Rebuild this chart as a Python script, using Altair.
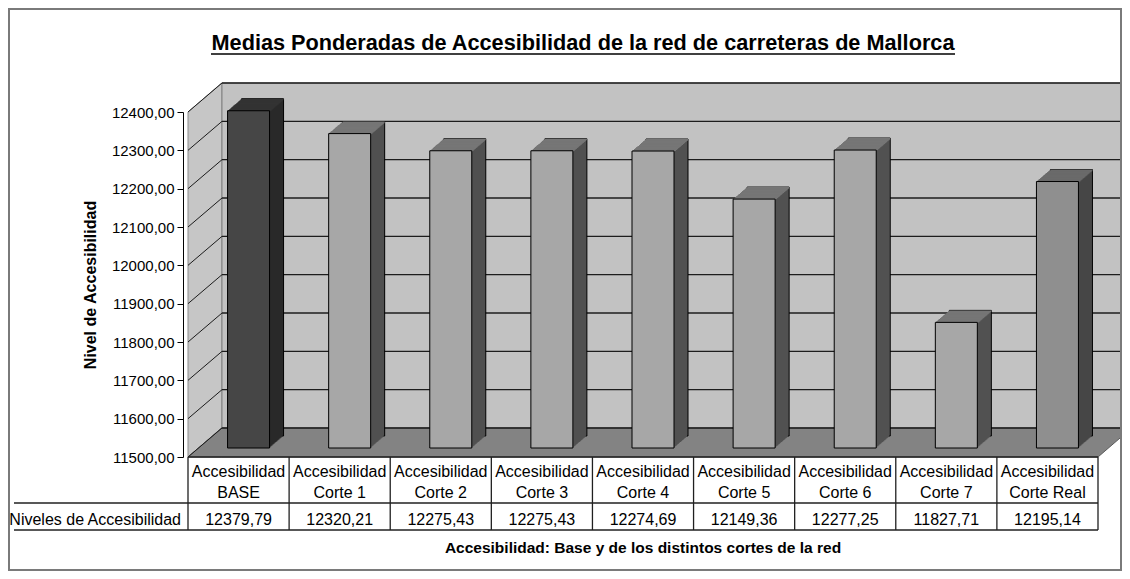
import altair as alt
import pandas as pd

# ---------------- data ----------------
categories = ["BASE", "Corte 1", "Corte 2", "Corte 3", "Corte 4",
              "Corte 5", "Corte 6", "Corte 7", "Corte Real"]
values = [12379.79, 12320.21, 12275.43, 12275.43, 12274.69,
          12149.36, 12277.25, 11827.71, 12195.14]
y_ticks = [11500, 11600, 11700, 11800, 11900, 12000, 12100, 12200, 12300, 12400]
label_prefix = "Accesibilidad"
title_text = "Medias Ponderadas de Accesibilidad de la red de carreteras de Mallorca"
y_title = "Nivel de Accesibilidad"
x_title = "Accesibilidad: Base y de los distintos cortes de la red"
row_label = "Niveles de Accesibilidad"

# ---------------- styles ----------------
FONT = "Liberation Sans"
W, H = 920, 345
DX, DY = 34, 29          # wall depth (px)
BX, BY = 10, 9           # bar front offset from front plane (px)
BDX, BDY = 14, 12        # bar depth (px)
BAR_W = 42
front_colors = ["#464646"] + ["#a7a7a7"] * 7 + ["#8f8f8f"]
top_colors = ["#333333"] + ["#767676"] * 7 + ["#6a6a6a"]
side_colors = ["#2a2a2a"] + ["#515151"] * 7 + ["#474747"]
WALL = "#c2c2c2"
FLOOR = "#838383"
GRID = "#1c1c1c"

n = len(categories)
xmin, xmax = -0.5, n - 0.5
YMIN, YMAX = y_ticks[0], y_ticks[-1]
xs = alt.Scale(domain=[xmin, xmax], nice=False, zero=False)
ys = alt.Scale(domain=[YMIN, YMAX], nice=False, zero=False)
pxx = W / (xmax - xmin)
pxy = H / (YMAX - YMIN)
dxu, dyu = DX / pxx, DY / pxy

df = pd.DataFrame({"cat": categories, "value": values, "idx": list(range(n))})
df["l1"] = label_prefix
one = pd.DataFrame({"a": [0]})
ticks_df = pd.DataFrame({"v": y_ticks})
bounds_df = pd.DataFrame({"b": [i - 0.5 for i in range(n + 1)]})

yaxis = alt.Axis(values=y_ticks,
                 labelExpr="replace(format(datum.value, '.2f'), '.', ',')",
                 labelFont=FONT, labelFontSize=15, labelColor="black",
                 tickColor="black", tickSize=6, domainColor="black",
                 labelPadding=3, grid=False,
                 title=y_title, titleFont=FONT, titleFontSize=16,
                 titleFontWeight="bold", titleColor="black",
                 titleX=-93, titleY=H / 2, titleAngle=270,
                 titleBaseline="middle", titleAlign="center", zindex=2)

def X(field=None, datum=None):
    if datum is not None:
        return alt.X(datum=datum, scale=xs, axis=None)
    return alt.X(field, scale=xs, axis=None)

def Y(field=None, datum=None):
    if datum is not None:
        return alt.Y(datum=datum, scale=ys, axis=yaxis)
    return alt.Y(field, scale=ys, axis=yaxis)

layers = []

# back wall
layers.append(
    alt.Chart(one).mark_rect(fill=WALL, stroke="#8a8a8a", strokeWidth=1,
                             xOffset=DX, x2Offset=80, yOffset=-DY, y2Offset=-DY)
    .encode(x=X(datum=xmin), x2=alt.X2(datum=xmax),
            y=Y(datum=YMAX), y2=alt.Y2(datum=YMIN))
)

# left wall
lw = pd.DataFrame({"x": [xmin, xmin + dxu],
                   "top": [YMAX, YMAX + dyu],
                   "bot": [YMIN, YMIN + dyu]})
layers.append(
    alt.Chart(lw).mark_area(fill="#c6c6c6", stroke="#8a8a8a", strokeWidth=1)
    .encode(x=X("x:Q"), y=Y("top:Q"), y2=alt.Y2("bot:Q"))
)

# floor
fl = pd.DataFrame({"x": [xmin, xmin + dxu, xmax, xmax + dxu],
                   "top": [YMIN, YMIN + dyu, YMIN + dyu, YMIN + dyu],
                   "bot": [YMIN, YMIN, YMIN, YMIN + dyu]})
layers.append(
    alt.Chart(fl).mark_area(fill=FLOOR, stroke="#5a5a5a", strokeWidth=1)
    .encode(x=X("x:Q"), y=Y("top:Q"), y2=alt.Y2("bot:Q"))
)

# back-wall gridlines
layers.append(
    alt.Chart(ticks_df).mark_rule(color=GRID, strokeWidth=1.3,
                                  xOffset=DX, x2Offset=80, yOffset=-DY, y2Offset=-DY)
    .encode(x=X(datum=xmin), x2=alt.X2(datum=xmax),
            y=Y("v:Q"), y2=alt.Y2("v:Q"))
)
# slanted lines on the side wall
layers.append(
    alt.Chart(ticks_df).mark_rule(color=GRID, strokeWidth=1,
                                  x2Offset=DX, y2Offset=-DY)
    .encode(x=X(datum=xmin), x2=alt.X2(datum=xmin),
            y=Y("v:Q"), y2=alt.Y2("v:Q"))
)

ratio = BDY / BDX
def col(rng):
    return alt.Color("cat:N", scale=alt.Scale(domain=categories, range=rng), legend=None)

# bar side faces (extrusion)
for k in range(BDX, 0, -1):
    off = -(BY + k * ratio)
    kw = dict(size=BAR_W, xOffset=BX + k, yOffset=off, y2Offset=off)
    if k == BDX:
        kw.update(stroke="black", strokeWidth=1)
    layers.append(
        alt.Chart(df).mark_bar(**kw)
        .encode(x=X("idx:Q"), y=Y("value:Q"), y2=alt.Y2(datum=YMIN), color=col(side_colors))
    )
# bar top faces
for k in range(BDX, 0, -1):
    off = -(BY + k * ratio)
    layers.append(
        alt.Chart(df).mark_bar(size=BAR_W, xOffset=BX + k, yOffset=off, y2Offset=off + 1.6)
        .encode(x=X("idx:Q"), y=Y("value:Q"), y2=alt.Y2("value:Q"), color=col(top_colors))
    )
# bar fronts
layers.append(
    alt.Chart(df).mark_bar(size=BAR_W, xOffset=BX, yOffset=-BY, y2Offset=-BY,
                           stroke="black", strokeWidth=1)
    .encode(x=X("idx:Q"), y=Y("value:Q"), y2=alt.Y2(datum=YMIN), color=col(front_colors))
)

# ---------------- data table ----------------
layers.append(
    alt.Chart(bounds_df).mark_rule(color="#202020", strokeWidth=1.3)
    .encode(x=X("b:Q"), y=alt.value(H), y2=alt.value(H + 73))
)
layers.append(
    alt.Chart(one).mark_rule(color="#202020", strokeWidth=1.3)
    .encode(x=X(datum=xmin), x2=alt.X2(datum=xmax), y=alt.value(H))
)
for yy in (H + 46, H + 73):
    layers.append(
        alt.Chart(one).mark_rule(color="#202020", strokeWidth=1.3, xOffset=-174)
        .encode(x=X(datum=xmin), x2=alt.X2(datum=xmax), y=alt.value(yy))
    )
txt = dict(font=FONT, fontSize=16, color="black", baseline="alphabetic")
layers.append(
    alt.Chart(df).mark_text(**txt).encode(x=X("idx:Q"), y=alt.value(H + 20), text="l1:N")
)
layers.append(
    alt.Chart(df).mark_text(**txt).encode(x=X("idx:Q"), y=alt.value(H + 41), text="cat:N")
)
layers.append(
    alt.Chart(df).transform_calculate(
        txt="replace(format(datum.value, '.2f'), '.', ',')"
    ).mark_text(**txt).encode(x=X("idx:Q"), y=alt.value(H + 68), text="txt:N")
)
layers.append(
    alt.Chart(pd.DataFrame({"t": [row_label]})).mark_text(align="right", **txt)
    .encode(x=alt.value(-2), y=alt.value(H + 68), text="t:N")
)
layers.append(
    alt.Chart(pd.DataFrame({"t": [x_title]}))
    .mark_text(font=FONT, fontSize=15.5, fontWeight="bold", color="black", baseline="alphabetic")
    .encode(x=alt.value(W / 2), y=alt.value(H + 96), text="t:N")
)

# ---------------- title + frame ----------------
layers.append(
    alt.Chart(pd.DataFrame({"t": [title_text]}))
    .mark_text(font=FONT, fontSize=21.7, fontWeight="bold", color="black", baseline="alphabetic")
    .encode(x=alt.value(400), y=alt.value(-62), text="t:N")
)
layers.append(
    alt.Chart(one).mark_rule(color="black", strokeWidth=1.6)
    .encode(x=alt.value(28), x2=alt.value(772), y=alt.value(-58))
)
layers.append(
    alt.Chart(one).mark_rect(fillOpacity=0, stroke="#7a7a7a", strokeWidth=2)
    .encode(x=alt.value(-174), x2=alt.value(W + 18), y=alt.value(-103), y2=alt.value(H + 113))
)

chart = alt.layer(*layers).resolve_scale(color="independent").properties(
    width=W, height=H,
    autosize=alt.AutoSizeParams(type="none"),
    padding={"left": 175, "top": 104, "right": 19, "bottom": 114},
    background="white",
).configure_view(stroke=None)

chart.save("out.html", embed_options={"renderer": "svg", "actions": False})
